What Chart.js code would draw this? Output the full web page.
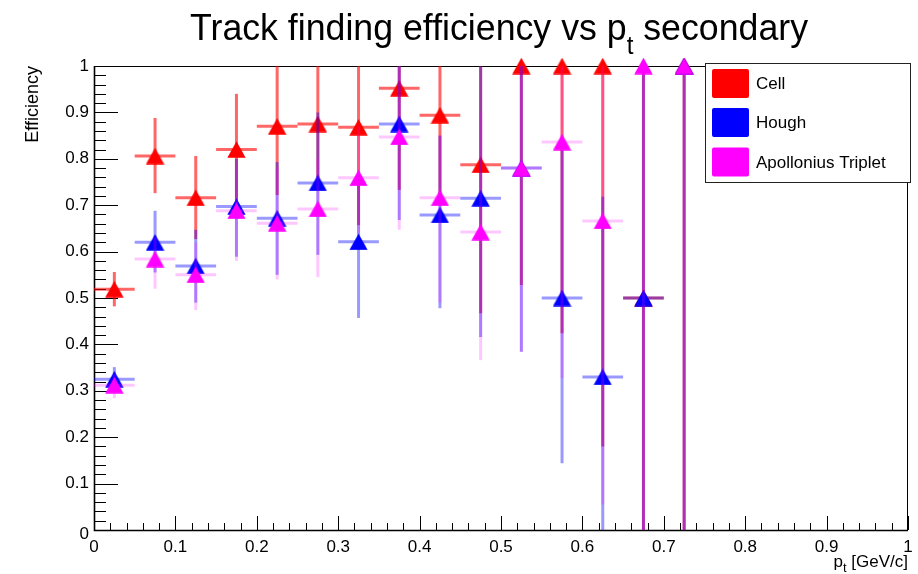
<!DOCTYPE html>
<html><head><meta charset="utf-8">
<script src="https://cdn.jsdelivr.net/npm/chart.js@4/dist/chart.umd.min.js"></script>
<style>html,body{margin:0;padding:0;background:#fff;}</style>
</head><body>
<canvas id="c" width="918" height="574"></canvas>
<script>
// ---- data ----
const binCenters = [0.025,0.075,0.125,0.175,0.225,0.275,0.325,0.375,0.425,0.475,0.525,0.575,0.625,0.675,0.725];
const binHalfWidth = 0.025;

const cellEff  = [0.519,0.806,0.716,0.820,0.870,0.875,0.868,0.952,0.894,0.787,1.000,1.000,1.000,0.500,1.000];
const cellLow  = [0.482,0.726,0.627,0.705,0.722,0.760,0.657,0.733,0.700,0.467,0.528,0.424,0.180,0.000,0.000];
const cellHigh = [0.556,0.888,0.806,0.940,1.000,1.000,1.000,1.000,1.000,1.000,1.000,1.000,1.000,1.000,1.000];

const houghEff  = [0.325,0.620,0.569,0.697,0.672,0.748,0.621,0.875,0.679,0.715,0.780,0.500,0.330,0.500,1.000];
const houghLow  = [0.300,0.555,0.490,0.589,0.550,0.593,0.457,0.668,0.478,0.416,0.384,0.144,0.000,0.000,0.000];
const houghHigh = [0.351,0.688,0.647,0.800,0.793,0.900,0.760,1.000,0.850,1.000,1.000,0.840,0.718,1.000,1.000];

const apoEff  = [0.312,0.584,0.550,0.688,0.661,0.692,0.759,0.847,0.716,0.642,0.780,0.836,0.666,1.000,1.000];
const apoLow  = [0.284,0.520,0.474,0.580,0.540,0.545,0.640,0.647,0.490,0.366,0.384,0.327,0.055,0.000,0.000];
const apoHigh = [0.335,0.630,0.620,0.790,0.780,0.800,0.870,1.000,0.850,0.900,1.000,1.000,1.000,1.000,1.000];

const seriesNames = ['Cell','Hough','Apollonius Triplet'];
const xTickLabels = ['0','0.1','0.2','0.3','0.4','0.5','0.6','0.7','0.8','0.9','1'];
const yTickLabels = ['0','0.1','0.2','0.3','0.4','0.5','0.6','0.7','0.8','0.9','1'];
const titleMain = 'Track finding efficiency vs p';
const titleSub = 't';
const titleRest = ' secondary';
const yTitle = 'Efficiency';
const xTitleMain = 'p';
const xTitleSub = 't';
const xTitleRest = ' [GeV/c]';

// ---- styles ----
const FONT = '"Liberation Sans", Arial, Helvetica, sans-serif';
const markerColors = ['#ff0000','#0000ff','#ff00ff'];
const errColors = ['rgba(255,0,0,0.6)','rgba(0,0,255,0.4)','rgba(255,0,255,0.22)'];

function triangleImage(color){
  const w = 19, h = 17;
  const cv = document.createElement('canvas');
  cv.width = w; cv.height = h;
  const g = cv.getContext('2d');
  g.fillStyle = color;
  g.beginPath();
  g.moveTo(0.3, h-0.3); g.lineTo(w-0.3, h-0.3); g.lineTo(w/2, 0.3); g.closePath();
  g.fill();
  return cv;
}

function toPoints(eff){ return binCenters.map((x,i)=>({x:x, y:eff[i]})); }
const lows = [cellLow, houghLow, apoLow];
const highs = [cellHigh, houghHigh, apoHigh];

const datasets = [cellEff, houghEff, apoEff].map((eff,i)=>({
  label: seriesNames[i],
  data: toPoints(eff),
  showLine: false,
  pointStyle: triangleImage(markerColors[i]),
  pointRadius: 10,
  pointHoverRadius: 10,
  backgroundColor: markerColors[i],
  borderColor: markerColors[i],
  borderWidth: 0,
  order: 3 - i,
  clip: false
}));

const rootPlugin = {
  id: 'rootStyle',
  beforeDatasetsDraw(chart){
    const {ctx, chartArea:a, scales:{x, y}} = chart;
    ctx.save();
    // ticks
    ctx.strokeStyle = '#000';
    ctx.lineWidth = 1;
    for (let k = 0; k <= 50; k++){
      const v = k * 0.02;
      const major = (k % 5 === 0);
      const py = Math.round(y.getPixelForValue(v)) + 0.5;
      ctx.beginPath(); ctx.moveTo(a.left, py); ctx.lineTo(a.left + (major ? 24 : 12), py); ctx.stroke();
      const px = Math.round(x.getPixelForValue(v)) + 0.5;
      ctx.beginPath(); ctx.moveTo(px, a.bottom); ctx.lineTo(px, a.bottom - (major ? 14 : 7)); ctx.stroke();
    }
    // frame
    ctx.lineWidth = 1;
    ctx.strokeRect(a.left + 0.5, a.top + 0.5, a.right - a.left - 1, a.bottom - a.top);
    ctx.lineWidth = 1.6;
    ctx.beginPath(); ctx.moveTo(a.left + 0.5, a.top); ctx.lineTo(a.left + 0.5, a.bottom + 0.5); ctx.lineTo(a.right, a.bottom + 0.5); ctx.stroke();
    // tick labels
    ctx.fillStyle = '#000';
    ctx.font = '17px ' + FONT;
    ctx.textAlign = 'right'; ctx.textBaseline = 'middle';
    yTickLabels.forEach(t => { ctx.fillText(t, a.left - 5, y.getPixelForValue(parseFloat(t)) + (t === '0' ? 4 : 0)); });
    ctx.textAlign = 'center'; ctx.textBaseline = 'top';
    xTickLabels.forEach(t => { ctx.fillText(t, x.getPixelForValue(parseFloat(t)), a.bottom + 9); });
    // y title
    ctx.save();
    ctx.translate(33, a.top);
    ctx.rotate(-Math.PI/2);
    ctx.font = '18px ' + FONT;
    ctx.textAlign = 'right'; ctx.textBaseline = 'middle';
    ctx.fillText(yTitle, 0, 0);
    ctx.restore();
    // x title (right aligned)
    ctx.font = '17px ' + FONT;
    ctx.textBaseline = 'alphabetic'; ctx.textAlign = 'left';
    const wRest = ctx.measureText(xTitleRest).width;
    ctx.font = '13px ' + FONT;
    const wSub = ctx.measureText(xTitleSub).width;
    ctx.font = '17px ' + FONT;
    const wMain = ctx.measureText(xTitleMain).width;
    let xs = a.right - wRest - wSub - wMain;
    const by = 567;
    ctx.fillText(xTitleMain, xs, by);
    ctx.font = '13px ' + FONT;
    ctx.fillText(xTitleSub, xs + wMain, by + 5);
    ctx.font = '17px ' + FONT;
    ctx.fillText(xTitleRest, xs + wMain + wSub, by);
    // title
    const tLeft = 190, tRight = 808, tBase = 40;
    ctx.font = '37px ' + FONT;
    const w1 = ctx.measureText(titleMain).width;
    const w3 = ctx.measureText(titleRest).width;
    ctx.font = '25px ' + FONT;
    const w2 = ctx.measureText(titleSub).width;
    const total = w1 + w2 + w3;
    const sx = (tRight - tLeft) / total;
    ctx.save();
    ctx.translate(tLeft, tBase);
    ctx.scale(sx, 1);
    ctx.font = '37px ' + FONT;
    ctx.fillText(titleMain, 0, 0);
    ctx.font = '25px ' + FONT;
    ctx.fillText(titleSub, w1, 14);
    ctx.font = '37px ' + FONT;
    ctx.fillText(titleRest, w1 + w2, 0);
    ctx.restore();
    ctx.restore();
  },
  beforeDatasetDraw(chart, args){
    const i = args.index;
    const {ctx, scales:{x, y}} = chart;
    ctx.save();
    ctx.strokeStyle = errColors[i];
    ctx.lineWidth = 3;
    ctx.lineCap = 'butt';
    binCenters.forEach((c, k) => {
      const v = chart.data.datasets[i].data[k].y;
      const px = x.getPixelForValue(c);
      const py = y.getPixelForValue(v);
      if (v < 1) { // bars lying on the frame edge are clipped
        ctx.beginPath();
        ctx.moveTo(x.getPixelForValue(c - binHalfWidth), py);
        ctx.lineTo(x.getPixelForValue(c + binHalfWidth), py);
        ctx.stroke();
      }
      ctx.beginPath();
      ctx.moveTo(px, y.getPixelForValue(highs[i][k]));
      ctx.lineTo(px, y.getPixelForValue(lows[i][k]));
      ctx.stroke();
    });
    ctx.restore();
  },
  afterDraw(chart){
    const {ctx} = chart;
    ctx.save();
    const bx = 705, bw = 205, byy = 63, bh = 119;
    ctx.fillStyle = '#fff';
    ctx.fillRect(bx, byy, bw, bh);
    ctx.strokeStyle = '#222';
    ctx.lineWidth = 1;
    ctx.strokeRect(bx + 0.5, byy + 0.5, bw, bh);
    const rows = [83.5, 122.5, 162];
    seriesNames.forEach((n, i) => {
      ctx.fillStyle = markerColors[i];
      ctx.beginPath();
      if (ctx.roundRect) ctx.roundRect(712, rows[i] - 14.5, 37, 29, 2); else ctx.rect(712, rows[i] - 14.5, 37, 29);
      ctx.fill();
      ctx.fillStyle = '#000';
      ctx.font = '17px ' + FONT;
      ctx.textAlign = 'left'; ctx.textBaseline = 'middle';
      ctx.fillText(n, 756, rows[i] + 1);
    });
    ctx.restore();
  }
};

new Chart(document.getElementById('c'), {
  type: 'scatter',
  data: { datasets },
  options: {
    responsive: false,
    animation: false,
    devicePixelRatio: 1,
    layout: { padding: { left: 94, top: 66, right: 8, bottom: 44 } },
    scales: {
      x: { type: 'linear', min: 0, max: 1, display: false },
      y: { type: 'linear', min: 0, max: 1, display: false }
    },
    plugins: { legend: { display: false }, tooltip: { enabled: false }, title: { display: false } },
    events: []
  },
  plugins: [rootPlugin]
});
</script>
</body></html>
